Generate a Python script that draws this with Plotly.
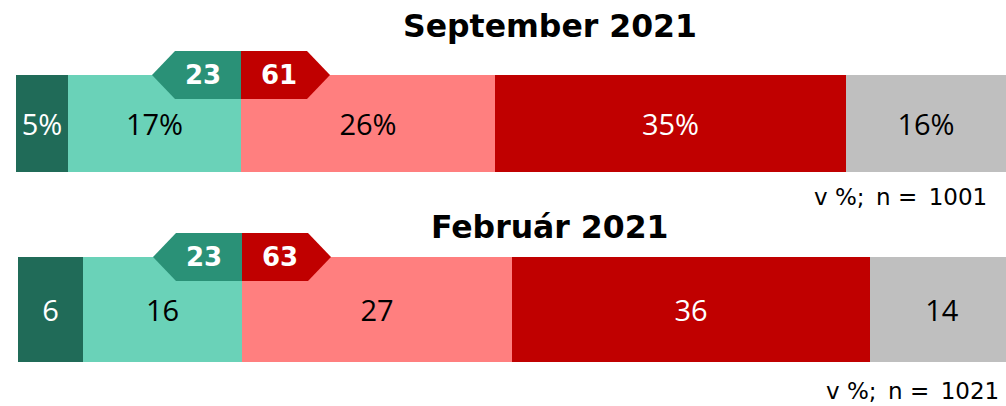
import numpy as np
import plotly.graph_objects as go

# ---- data ----
periods = ["September 2021", "Február 2021"]
notes = ["v %;\u2002n =\u20021001", "v %;\u2002n =\u20021021"]
segment_values = {
    "September 2021": [5.2, 17.3, 25.4, 35.1, 16.0],
    "Február 2021": [6.5, 15.9, 27.0, 35.8, 14.4],
}
segment_labels = {
    "September 2021": ["5%", "17%", "26%", "35%", "16%"],
    "Február 2021": ["6", "16", "27", "36", "14"],
}
group_left = [23, 23]   # sum of green categories
group_right = [61, 63]  # sum of red categories

# ---- style ----
seg_colors = ["#206B58", "#6AD2B8", "#FF7F7F", "#C00000", "#BFBFBF"]
seg_text_colors = ["white", "black", "black", "white", "black"]
arrow_left_color = "#2A9177"
arrow_right_color = "#C00000"

W, H = 1006, 406
bar_center = [123.5, 309.5]
bar_width = [97, 105]
x_ranges = [[-1.6, 99.0], [-1.8, 98.8]]
title_y = [26, 227]
note_y = [197, 391]
note_x = [989, 1001]
arrow_h = 48
arrow_body = 6.6
arrow_tip = 2.3

LABEL_FONT = "Open Sans"
TITLE_FONT = "DejaVu Sans"

fig = go.Figure()
xrefs = ["x", "x2"]
for i, p in enumerate(periods):
    vals = np.array(segment_values[p])
    bases = np.concatenate([[0], np.cumsum(vals)[:-1]])
    for j, v in enumerate(vals):
        fig.add_trace(go.Bar(
            x=[v], y=[bar_center[i]], base=[bases[j]], orientation="h",
            width=bar_width[i],
            marker=dict(color=seg_colors[j], line=dict(width=0)),
            text=[segment_labels[p][j]], textposition="inside",
            insidetextanchor="middle", textangle=0,
            textfont=dict(family=LABEL_FONT, size=29, color=seg_text_colors[j]),
            xaxis=xrefs[i], yaxis="y", showlegend=False, hoverinfo="skip",
        ))

    # group arrows
    b = bases[2]
    yc = bar_center[i] - bar_width[i] / 2
    y0, y1 = yc - arrow_h / 2, yc + arrow_h / 2
    left_path = (f"M {b},{y0} L {b - arrow_body},{y0} L {b - arrow_body - arrow_tip},{yc} "
                 f"L {b - arrow_body},{y1} L {b},{y1} Z")
    right_path = (f"M {b},{y0} L {b + arrow_body},{y0} L {b + arrow_body + arrow_tip},{yc} "
                  f"L {b + arrow_body},{y1} L {b},{y1} Z")
    fig.add_shape(type="path", path=left_path, xref=xrefs[i], yref="y",
                  fillcolor=arrow_left_color, line=dict(width=0), layer="above")
    fig.add_shape(type="path", path=right_path, xref=xrefs[i], yref="y",
                  fillcolor=arrow_right_color, line=dict(width=0), layer="above")
    fig.add_annotation(x=b - 3.8, y=yc, xref=xrefs[i], yref="y", text=f"<b>{group_left[i]}</b>",
                       showarrow=False, font=dict(family=TITLE_FONT, size=26, color="white"))
    fig.add_annotation(x=b + 3.8, y=yc, xref=xrefs[i], yref="y", text=f"<b>{group_right[i]}</b>",
                       showarrow=False, font=dict(family=TITLE_FONT, size=26, color="white"))

    # title and note
    fig.add_annotation(x=550 / W, y=title_y[i], xref="paper", yref="y", text=f"<b>{p}</b>",
                       showarrow=False, font=dict(family=TITLE_FONT, size=31.5, color="black"))
    fig.add_annotation(x=note_x[i] / W, y=note_y[i], xref="paper", yref="y",
                       text=notes[i], xanchor="right", showarrow=False,
                       font=dict(family="DejaVu Sans", size=23, color="black"))

axis_common = dict(showgrid=False, zeroline=False, showticklabels=False, showline=False, fixedrange=True)
fig.update_layout(
    width=W, height=H, margin=dict(l=0, r=0, t=0, b=0),
    paper_bgcolor="white", plot_bgcolor="white",
    barmode="overlay", showlegend=False,
    xaxis=dict(range=x_ranges[0], domain=[0, 1], **axis_common),
    xaxis2=dict(range=x_ranges[1], domain=[0, 1], overlaying="x", **axis_common),
    yaxis=dict(range=[H, 0], domain=[0, 1], **axis_common),
    uniformtext=dict(mode=False),
)
fig.write_html("out.html", post_script="document.body.style.margin='0';",
               config={"displayModeBar": False})
